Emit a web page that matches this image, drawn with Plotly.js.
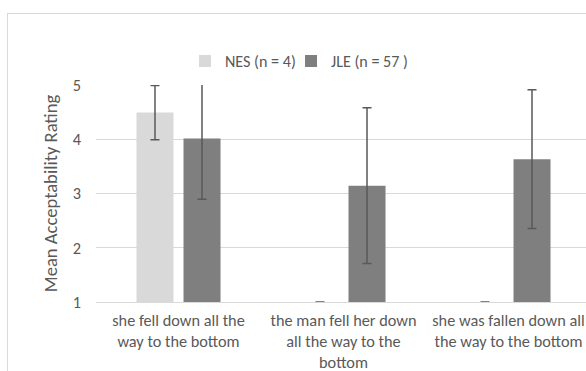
<!DOCTYPE html>
<html>
<head>
<meta charset="utf-8">
<script src="https://cdn.plot.ly/plotly-3.0.1.min.js"></script>
<style>
  html, body { margin: 0; padding: 0; width: 586px; height: 371px; overflow: hidden; background: #fff; }
  #chart { position: absolute; left: 0; top: 0; width: 586px; height: 371px; }
  #frame { position: absolute; left: 7px; top: 13px; width: 700px; height: 500px; border: 1px solid #d9d9d9; pointer-events: none; }
</style>
</head>
<body>
<div id="chart"></div>
<div id="frame"></div>
<script>
const categories = [
  "she fell down all the<br>way to the bottom",
  "the man fell her down<br>all the way to the<br>bottom",
  "she was fallen down all<br>the way to the bottom"
];
const nesName = "NES (n = 4)";
const jleName = "JLE (n = 57 )";
const nesMeans = [4.5, 1, 1];
const nesErrors = [0.5, 0, 0];
const jleMeans = [4.02, 3.15, 3.64];
const jleErrors = [1.12, 1.44, 1.28];
const yTicks = [1, 2, 3, 4, 5];

const FONT = "Carlito, Calibri, 'Liberation Sans', Arial, sans-serif";
const TXT = "#595959";

const errStyle = { type: "data", visible: true, color: "#595959", thickness: 1.5, width: 4.5 };

const data = [
  {
    type: "bar", name: nesName, x: categories, y: nesMeans,
    marker: { color: "#d9d9d9" },
    error_y: Object.assign({ array: nesErrors }, errStyle),
    legend: "legend",
    hoverinfo: "skip"
  },
  {
    type: "bar", name: jleName, x: categories, y: jleMeans,
    marker: { color: "#7f7f7f" },
    error_y: Object.assign({ array: jleErrors }, errStyle),
    legend: "legend2",
    hoverinfo: "skip"
  }
];

const legendBase = {
  orientation: "h", y: 1.11, yanchor: "middle", xanchor: "left",
  font: { family: FONT, size: 16.1, color: TXT },
  bgcolor: "rgba(0,0,0,0)", borderwidth: 0
};

const layout = {
  width: 586, height: 371,
  margin: { l: 96, r: 0, t: 85, b: 69, pad: 0 },
  paper_bgcolor: "#ffffff", plot_bgcolor: "#ffffff",
  font: { family: FONT, color: TXT, size: 16.3 },
  barmode: "group", bargap: 0.43, bargroupgap: 0.213,
  showlegend: true,
  legend: Object.assign({}, legendBase, { x: 0.1816 }),
  legend2: Object.assign({}, legendBase, { x: 0.398 }),
  xaxis: {
    type: "category", range: [-0.5, 2.4697],
    showgrid: false, zeroline: false,
    showline: true, linecolor: "#d9d9d9", linewidth: 1,
    ticks: "", ticklabelstandoff: 3,
    tickfont: { family: FONT, size: 16.3, color: TXT },
    fixedrange: true
  },
  yaxis: {
    range: [1, 5.01], tickvals: yTicks, ticktext: yTicks.map(String),
    showgrid: true, gridcolor: "#d9d9d9", gridwidth: 1,
    zeroline: false, showline: false, ticks: "", ticklabelstandoff: 14,
    tickfont: { family: FONT, size: 16.3, color: TXT },
    title: { text: "Mean Acceptability Rating", font: { family: FONT, size: 18.6, color: TXT }, standoff: 10 },
    fixedrange: true
  }
};

Plotly.newPlot("chart", data, layout, { displayModeBar: false, staticPlot: true });
</script>
</body>
</html>
